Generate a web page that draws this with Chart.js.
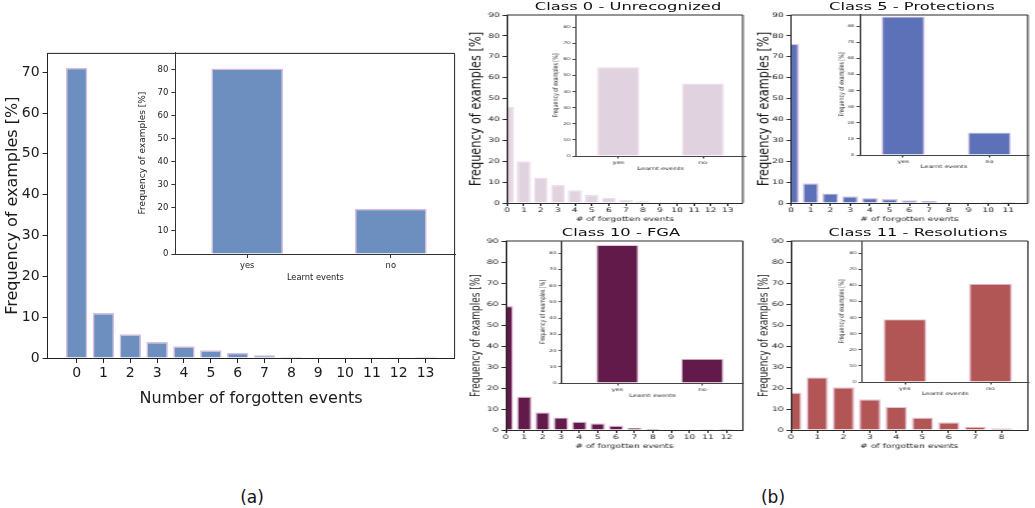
<!DOCTYPE html>
<html>
<head>
<meta charset="utf-8">
<script src="https://cdn.jsdelivr.net/npm/chart.js@4"></script>
<style>
  body { margin: 0; background: #fff; }
  #fig { position: relative; width: 1035px; height: 508px; overflow: hidden; background: #fff; }
  #fig canvas { position: absolute; transform-origin: 0 0; }
  .txt { position: absolute; white-space: nowrap; line-height: 1; color: #111; font-family: 'DejaVu Sans', sans-serif; }
</style>
</head>
<body>
<div id="fig"></div>
<script>
// (a) all classes
const forgottenA = [0, 1, 2, 3, 4, 5, 6, 7, 8, 9, 10, 11, 12, 13];
const freqA = [71.1, 11, 5.8, 3.9, 2.9, 1.9, 1.3, 0.65, 0.3, 0.15, 0.1, 0.05, 0.05, 0.03];
const learntCats = ['yes', 'no'];
const learntPos = [0, 1];
const learntA = [80.4, 19.6];

// (b) per class
const classTitles = ['Class 0 - Unrecognized', 'Class 5 - Protections', 'Class 10 - FGA', 'Class 11 - Resolutions'];
const forgotten0 = [0, 1, 2, 3, 4, 5, 6, 7, 8, 9, 10, 11, 12, 13];
const freq0 = [46, 20, 12.1, 8.6, 6.1, 3.8, 2.5, 1.6, 0.8, 0.4, 0.2, 0.15, 0.1, 0.1];
const learnt0 = [55, 45];
const forgotten5 = [0, 1, 2, 3, 4, 5, 6, 7, 8, 9, 10, 11];
const freq5 = [76.2, 9.4, 4.6, 3.2, 2.4, 1.9, 1.3, 0.9, 0.4, 0.2, 0.1, 0.05];
const learnt5 = [86, 14];
const forgotten10 = [0, 1, 2, 3, 4, 5, 6, 7, 8, 9, 10, 11, 12];
const freq10 = [59, 15.9, 8.4, 6, 4, 3.2, 2.1, 1.1, 0.6, 0.3, 0.15, 0.1, 0.05];
const learnt10 = [85, 15];
const forgotten11 = [0, 1, 2, 3, 4, 5, 6, 7, 8];
const freq11 = [17.8, 25.1, 20.3, 14.6, 11.1, 5.9, 3.7, 1.6, 0.8];
const learnt11 = [39, 61];

// tick labels
const yTicksA = [0, 10, 20, 30, 40, 50, 60, 70];
const yTicksB = [0, 10, 20, 30, 40, 50, 60, 70, 80, 90];
const yTicksInset = [0, 10, 20, 30, 40, 50, 60, 70, 80];

const FONT = 'DejaVu Sans';
const TXT = '#1a1a1a';
const SX = 1.45; // panel (b) is stretched sideways
const fig = document.getElementById('fig');

// top and right spines, matplotlib style
const framePlugin = {
  id: 'frame',
  afterDatasetsDraw(chart, args, opts) {
    if (!opts.show) return;
    const { ctx, chartArea: a } = chart;
    ctx.save();
    ctx.strokeStyle = opts.color;
    ctx.lineWidth = 1;
    ctx.beginPath();
    ctx.moveTo(a.left, a.top);
    ctx.lineTo(a.right, a.top);
    ctx.lineTo(a.right, a.bottom);
    ctx.stroke();
    ctx.restore();
  },
};

const addText = function (text, x, y, size, sx) {
  const d = document.createElement('div');
  d.className = 'txt';
  d.textContent = text;
  d.style.left = x + 'px';
  d.style.top = y + 'px';
  d.style.fontSize = size + 'px';
  d.style.transform = `translate(-50%, -50%) scaleX(${sx})`;
  fig.appendChild(d);
};

const drawBars = function (xs, ys, xLabels, yTicks, g) {
  const sx = g.sx || 1;
  const left = g.yTitleX - 0.6 * g.yTitleSize * sx;
  const top = g.T - 8;
  const width = Math.ceil((g.R - left) / sx + 4);
  const height = Math.ceil(g.xTitleY + 0.6 * g.xTitleSize - top);

  const canvas = document.createElement('canvas');
  canvas.width = width;
  canvas.height = height;
  canvas.style.left = left + 'px';
  canvas.style.top = top + 'px';
  canvas.style.transform = `scaleX(${sx})`;
  fig.appendChild(canvas);

  const font = size => ({ family: FONT, size });
  const axisLine = { color: g.axis, width: 1, z: 1 };

  return new Chart(canvas, {
    type: 'bar',
    data: {
      datasets: [
        {
          data: xs.map((x, i) => ({ x, y: ys[i] })),
          backgroundColor: g.fill,
          borderColor: g.edge,
          borderWidth: g.edgeW,
          barPercentage: g.barPct,
          categoryPercentage: 1,
          clip: 0,
        },
      ],
    },
    options: {
      responsive: false,
      animation: false,
      events: [],
      layout: {
        padding: { top: g.T - top, right: width - (g.R - left) / sx, left: 0, bottom: 0 },
      },
      plugins: {
        legend: { display: false },
        tooltip: { enabled: false },
        frame: { show: !!g.frame, color: g.axis },
      },
      scales: {
        x: {
          type: 'linear',
          min: g.xMin,
          max: g.xMax,
          offset: false,
          bounds: 'data',
          afterBuildTicks: sc => { sc.ticks = xs.map(v => ({ value: v })); },
          afterFit: sc => { sc.height = height - (g.B - top); },
          ticks: {
            autoSkip: false,
            maxRotation: 0,
            padding: g.xPad,
            color: TXT,
            font: font(g.xTick),
            callback: (v, i) => xLabels[i],
          },
          grid: { drawOnChartArea: false, offset: false, tickLength: g.tickLen, color: g.axis },
          border: axisLine,
          title: { display: true, text: g.xTitle, color: TXT, font: font(g.xTitleSize), padding: 0 },
        },
        y: {
          min: 0,
          max: g.yMax,
          afterBuildTicks: sc => { sc.ticks = yTicks.map(v => ({ value: v })); },
          afterFit: sc => { sc.width = (g.L - left) / sx; },
          ticks: { padding: g.yPad, color: TXT, font: font(g.yTick) },
          grid: { drawOnChartArea: false, tickLength: g.tickLen, color: g.axis },
          border: axisLine,
          title: { display: true, text: 'Frequency of examples [%]', color: TXT, font: font(g.yTitleSize), padding: 0 },
        },
      },
    },
    plugins: [framePlugin],
  });
};

// shared looks
const mainA = {
  sx: 1, frame: true, axis: '#222', xTitle: 'Number of forgotten events',
  xTick: 14, yTick: 14, tickLen: 5, xPad: 1.6, yPad: 3,
  yTitleSize: 16, xTitleSize: 16, edgeW: 1.5, barPct: 0.8,
};
const insetA = {
  sx: 1, frame: false, axis: '#333', xTitle: 'Learnt events',
  xTick: 8.3, yTick: 8.5, tickLen: 4, xPad: 3, yPad: 3,
  yTitleSize: 9, xTitleSize: 8.3, edgeW: 1.5, barPct: 0.5, yMax: 87.5,
};
const mainB = {
  sx: SX, frame: true, axis: '#2a2a2a', xTitle: '# of forgotten events',
  xTick: 6.3, yTick: 6.3, tickLen: 3, xPad: 1, yPad: 2,
  xTitleSize: 6.3, edgeW: 1.2, barPct: 0.82, xMin: 0, yMax: 90,
};
const insetB = {
  sx: SX, frame: false, axis: '#444', xTitle: 'Learnt events',
  xTick: 4.7, yTick: 3.8, tickLen: 2.5, xPad: 1, yPad: 1.5,
  yTitleSize: 4.7, xTitleSize: 4.7, edgeW: 1, barPct: 0.5, yMax: 87.5,
};

// colours per panel
const blueA = { fill: '#6d8fc0', edge: '#dcbcdc' };
const mauve0 = { fill: '#e0d3df', edge: '#ecdeec' };
const blue5 = { fill: '#5d71b9', edge: '#dcc6e6' };
const wine10 = { fill: '#621a4a', edge: '#e6c6de' };
const red11 = { fill: '#b25555', edge: '#e6c4dc' };

// (a)
drawBars(forgottenA, freqA, forgottenA, yTicksA, { ...mainA, ...blueA,
  L: 48, T: 50, R: 455, B: 358, xMin: -1.08, xMax: 14.08, yMax: 74.6, yTitleX: 13, xTitleY: 398 });
drawBars(learntPos, learntA, learntCats, yTicksInset, { ...insetA, ...blueA,
  L: 175, T: 52, R: 455, B: 254, xMin: -0.5, xMax: 1.45, yTitleX: 142, xTitleY: 278 });

// (b) Class 0
drawBars(forgotten0, freq0, forgotten0, yTicksB, { ...mainB, ...mauve0,
  L: 507, T: 15, R: 743, B: 203, xMax: 13.88, yTitleX: 476, yTitleSize: 11.3, xTitleY: 219 });
drawBars(learntPos, learnt0, learntCats, yTicksInset, { ...insetB, ...mauve0,
  L: 576, T: 15, R: 745, B: 156, xMin: -0.5, xMax: 1.5, yTitleX: 556, xTitleY: 169 });

// (b) Class 5
drawBars(forgotten5, freq5, forgotten5, yTicksB, { ...mainB, ...blue5,
  L: 791, T: 15, R: 1028, B: 203, xMax: 12.0, yTitleX: 764, yTitleSize: 11.3, xTitleY: 219 });
drawBars(learntPos, learnt5, learntCats, yTicksInset, { ...insetB, ...blue5,
  L: 860, T: 14, R: 1028, B: 155, xMin: -0.5, xMax: 1.45, yTitleX: 842, xTitleY: 167 });

// (b) Class 10
drawBars(forgotten10, freq10, forgotten10, yTicksB, { ...mainB, ...wine10,
  L: 506, T: 241, R: 743, B: 430, xMax: 12.9, yTitleX: 476, yTitleSize: 9, xTitleY: 446 });
drawBars(learntPos, learnt10, learntCats, yTicksInset, { ...insetB, ...wine10,
  L: 562, T: 241, R: 743, B: 383, xMin: -0.65, xMax: 1.48, yTitleX: 543, xTitleY: 396 });

// (b) Class 11
drawBars(forgotten11, freq11, forgotten11, yTicksB, { ...mainB, ...red11,
  L: 791, T: 241, R: 1028, B: 430, xMax: 9.0, yTitleX: 764, yTitleSize: 9, xTitleY: 446 });
drawBars(learntPos, learnt11, learntCats, yTicksInset, { ...insetB, ...red11,
  L: 862, T: 241, R: 1028, B: 382, xMin: -0.5, xMax: 1.44, yTitleX: 842, xTitleY: 394 });

// subplot titles and panel letters
addText(classTitles[0], 628, 7, 11.25, SX);
addText(classTitles[1], 912, 7, 11.25, SX);
addText(classTitles[2], 621, 233, 11.25, SX);
addText(classTitles[3], 918, 233, 11.25, SX);
addText('(a)', 252, 497, 17, 1);
addText('(b)', 773, 497, 17, 1);
</script>
</body>
</html>
